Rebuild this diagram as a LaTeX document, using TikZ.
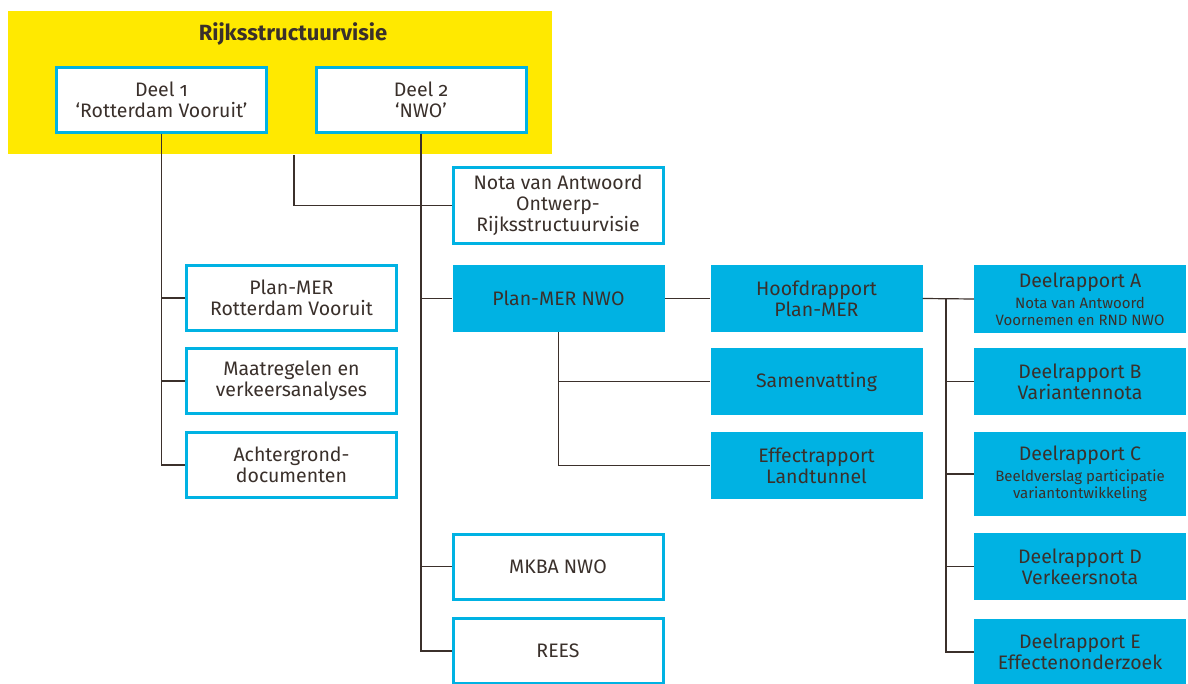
\documentclass[tikz,border=0pt]{standalone}
\usepackage{fontspec}
\setmainfont{Fira Sans}[Numbers=OldStyle]
\usepackage{xcolor}
\usepackage{tikz}
\definecolor{rvyellow}{HTML}{FFE900}
\definecolor{rvcyan}{HTML}{00B2E3}
\definecolor{rvtext}{HTML}{3A302B}
\definecolor{rvline}{HTML}{3B302B}
\newcommand{\smalltxt}{\fontsize{15}{17}\selectfont}

\begin{document}
\begin{tikzpicture}[x=1pt,y=-1pt,
    docbox/.style={draw=rvcyan,line width=3pt,fill=white,text=rvtext,align=center,
      minimum width=210pt,minimum height=65pt,inner sep=0pt,font=\fontsize{19.5}{21}\selectfont},
    repbox/.style={fill=rvcyan,text=rvtext,align=center,
      minimum width=212pt,minimum height=67pt,inner sep=0pt,font=\fontsize{19.5}{21}\selectfont},
    link/.style={draw=rvline,line width=1.2pt}]
				\clip (0,0) rectangle (1188,684);
				\node[fill=rvyellow,minimum width=544pt,minimum height=143pt,inner sep=0pt] (rv) at (280,82.5) {};
				\node[text=rvtext,font=\fontsize{22}{24}\selectfont\bfseries] (title) at (293,34) {Rijksstructuurvisie};
				
				% linker kolom
				\node[docbox] (deel1) at (161.5,100) {Deel 1\\`Rotterdam Vooruit'};
				\node[docbox] (pmrv) at (291.5,298) {Plan-MER\\Rotterdam Vooruit};
				\node[docbox] (maat) at (291.5,381) {Maatregelen en\\verkeersanalyses};
				\node[docbox] (achter) at (291.5,465) {Achtergrond-\\documenten};
				
				% middelste kolom
				\node[docbox] (deel2) at (421,100) {Deel 2\\`NWO'};
				\node[docbox,minimum height=76pt] (nota) at (558,205.5) {Nota van Antwoord\\Ontwerp-\\Rijksstructuurvisie};
				\node[repbox] (pmnwo) at (558.5,298.5) {Plan-MER NWO};
				\node[docbox] (mkba) at (558,566.5) {MKBA NWO};
				\node[docbox] (rees) at (558,651) {REES};
				
				% plan-MER
				\node[repbox] (hoofd) at (816.5,298.5) {Hoofdrapport\\Plan-MER};
				\node[repbox] (samen) at (816.5,381.5) {Samenvatting};
				\node[repbox] (effect) at (816.5,465.5) {Effectrapport\\Landtunnel};
				
				% deelrapporten
				\node[repbox,minimum height=68pt] (dA) at (1080,299) {Deelrapport A\\[0pt]\smalltxt Nota van Antwoord\\[-4pt]\smalltxt Voornemen en RND NWO};
				\node[repbox] (dB) at (1080,381.5) {Deelrapport B\\Variantennota};
				\node[repbox,minimum height=84pt] (dC) at (1080,474) {Deelrapport C\\[0pt]\smalltxt Beeldverslag participatie\\[-4pt]\smalltxt variantontwikkeling};
				\node[repbox] (dD) at (1080,566.5) {Deelrapport D\\Verkeersnota};
				\node[repbox] (dE) at (1080,652) {Deelrapport E\\Effectenonderzoek};
				
				\coordinate (rvfoot) at (294,155);
				\coordinate (split) at (946,298.5);
				
				\draw[link] (deel1.south) |- (pmrv.west);
				\draw[link] (deel1.south) |- (maat.west);
				\draw[link] (deel1.south) |- (achter.west);
				\draw[link] (rvfoot) |- (nota.west);
				\draw[link] (deel2.south) |- (pmnwo.west);
				\draw[link] (deel2.south) |- (mkba.west);
				\draw[link] (deel2.south) |- (rees.west);
				\draw[link] (pmnwo) -- (hoofd);
				\draw[link] (pmnwo.south) |- (samen.west);
				\draw[link] (pmnwo.south) |- (effect.west);
				\draw[link] (hoofd.east) -- (dA.west);
				\draw[link] (split) |- (dB.west);
				\draw[link] (split) |- (dC.west);
				\draw[link] (split) |- (dD.west);
				\draw[link] (split) |- (dE.west);
			\end{tikzpicture}
\end{document}
